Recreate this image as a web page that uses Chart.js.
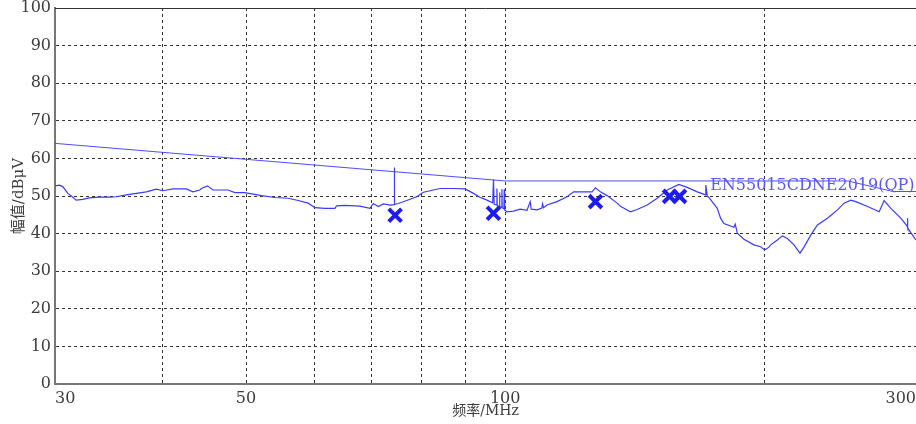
<!DOCTYPE html>
<html>
<head>
<meta charset="utf-8">
<script src="https://cdn.jsdelivr.net/npm/chart.js@4.4.1/dist/chart.umd.min.js"></script>
<style>
  html, body { margin: 0; padding: 0; background: #ffffff; }
  canvas { display: block; }
</style>
</head>
<body>
<canvas id="emi" width="916" height="424"></canvas>
<script>
// ─── 데이터 (MHz / dBμV) ───

// 한계선 EN55015 CDNE 2019 (QP)
const limitFreq = [30, 100, 250, 282, 300];
const limitLevel = [64, 54, 54, 51.2, 51.2];

// 측정 트레이스
const traceFreq = [
  30.0, 30.36, 30.63, 31.05, 31.33, 31.75, 32.32, 32.9, 33.8, 34.71,
  35.34, 36.31, 37.29, 38.3, 39.34, 40.04, 41.13, 42.63, 43.39, 44.18,
  44.38, 45.1, 45.78, 46.82, 47.66, 48.53, 49.84, 50.96, 52.12, 54.01,
  55.97, 57.48, 59.05, 60.11, 61.75, 63.42, 63.71, 65.14, 67.82, 69.66,
  70.28, 71.22, 72.18, 73.49, 74.3, 74.34, 74.4, 75.14, 76.85, 78.94,
  80.35, 82.53, 84.03, 87.07, 89.84, 91.86, 93.53, 94.36, 95.22, 96.7,
  96.92, 97.1, 97.7, 97.81, 97.9, 98.4, 98.5, 98.6, 99.05, 99.13,
  99.2, 99.65, 99.74, 99.85, 100.46, 102.25, 104.1, 106.0, 106.93, 107.2,
  108.87, 110.3, 110.5, 110.8, 111.82, 114.86, 117.98, 120.08, 123.35, 126.15,
  127.27, 128.99, 131.32, 134.89, 136.09, 138.55, 139.78, 142.31, 146.18, 150.14,
  154.22, 159.09, 162.71, 167.13, 170.88, 171.0, 171.66, 172.4, 176.32, 177.88,
  179.46, 184.34, 185.0, 186.02, 189.34, 194.48, 198.0, 199.76, 200.67, 202.45,
  203.37, 207.06, 209.85, 212.68, 216.47, 219.98, 222.35, 226.38, 230.48, 236.74,
  243.17, 247.52, 251.99, 255.39, 263.53, 271.85, 275.51, 280.5, 288.04, 293.0,
  293.25, 293.5, 299.84
];
const traceLevel = [
  52.7, 52.9, 52.5, 50.7, 50.0, 48.9, 49.1, 49.5, 49.7, 49.7,
  49.8, 50.3, 50.7, 51.1, 51.8, 51.4, 51.9, 51.9, 51.1, 51.6,
  52.0, 52.7, 51.6, 51.6, 51.6, 50.9, 50.9, 50.5, 50.1, 49.6,
  49.4, 48.8, 48.1, 46.9, 46.7, 46.7, 47.4, 47.5, 47.3, 46.7,
  48.0, 47.2, 47.9, 47.6, 47.7, 57.6, 47.8, 48.0, 48.8, 49.8,
  51.0, 51.6, 52.0, 52.0, 51.9, 50.7, 49.6, 49.3, 48.9, 48.2,
  54.4, 47.8, 47.6, 52.0, 47.4, 47.3, 50.9, 47.2, 47.0, 51.8,
  46.9, 46.6, 51.8, 46.3, 45.8, 46.0, 46.5, 46.2, 48.5, 46.5,
  46.3, 46.8, 47.9, 46.9, 47.6, 48.5, 49.8, 51.1, 51.1, 51.1,
  52.2, 51.1, 50.1, 48.1, 47.3, 46.3, 45.8, 46.4, 47.6, 49.4,
  51.6, 53.1, 52.3, 51.1, 50.3, 52.9, 50.0, 49.6, 46.7, 44.1,
  42.7, 41.7, 42.5, 40.1, 38.5, 37.0, 36.5, 35.8, 35.8, 36.4,
  37.0, 38.3, 39.4, 38.7, 37.0, 34.8, 36.4, 39.6, 42.3, 44.1,
  46.3, 48.1, 48.9, 48.5, 47.2, 45.8, 48.8, 46.7, 44.1, 42.0,
  44.1, 41.5, 38.3
];

// 최종 측정 (QP) 마커
const markFreq = [74.5, 96.9, 127.3, 155.2, 159.4];
const markLevel = [44.9, 45.4, 48.5, 49.9, 49.9];

// 축 눈금
const xGridValues = [30, 40, 50, 60, 70, 80, 90, 100, 200, 300];
const xTickLabels = [30, 50, 100, 300];
const yTickStep = 10;

const limitName = 'EN55015CDNE2019(QP)';
const limitNameAt = { freq: 173, level: 52.7 };

const FONT = "'DejaVu Serif', 'Noto Sans CJK SC', serif";

const toPoints = (xs, ys) => xs.map((x, i) => ({ x, y: ys[i] }));

// 윗변 테두리 + 한계선 이름
const framePlugin = {
  id: 'frame',
  afterDatasetsDraw(chart) {
    const { ctx, chartArea, scales } = chart;
    ctx.save();
    ctx.strokeStyle = '#333333';
    ctx.lineWidth = 1;
    ctx.beginPath();
    ctx.moveTo(chartArea.left, chartArea.top + 0.5);
    ctx.lineTo(chartArea.right, chartArea.top + 0.5);
    ctx.stroke();

    ctx.font = "16px 'DejaVu Serif', serif";
    ctx.fillStyle = '#5a5af0';
    ctx.textAlign = 'left';
    ctx.textBaseline = 'middle';
    ctx.fillText(limitName,
      scales.x.getPixelForValue(limitNameAt.freq),
      scales.y.getPixelForValue(limitNameAt.level));
    ctx.restore();
  },
};

new Chart(document.getElementById('emi'), {
  type: 'scatter',
  data: {
    datasets: [
      {
        label: 'limit',
        data: toPoints(limitFreq, limitLevel),
        showLine: true,
        borderColor: '#4d4dff',
        borderWidth: 1,
        pointRadius: 0,
        tension: 0,
        order: 3,
      },
      {
        label: 'trace',
        data: toPoints(traceFreq, traceLevel),
        showLine: true,
        borderColor: '#3a3aff',
        borderWidth: 1.2,
        pointRadius: 0,
        tension: 0,
        order: 2,
      },
      {
        label: 'qp',
        data: toPoints(markFreq, markLevel),
        showLine: false,
        pointStyle: 'crossRot',
        pointRadius: 9,
        borderWidth: 4,
        borderColor: '#1c1cf0',
        backgroundColor: '#1c1cf0',
        order: 1,
      },
    ],
  },
  options: {
    responsive: false,
    animation: false,
    layout: { autoPadding: false, padding: { top: 8, right: 0, left: 0, bottom: 0 } },
    plugins: {
      legend: { display: false },
      tooltip: { enabled: false },
    },
    scales: {
      x: {
        type: 'logarithmic',
        min: 30,
        max: 300,
        afterBuildTicks: (scale) => {
          scale.ticks = xGridValues.map((v) => ({ value: v }));
        },
        afterFit: (scale) => {
          scale.height = 40;
          scale.paddingLeft = 0;
          scale.paddingRight = 0;
        },
        ticks: {
          autoSkip: false,
          maxRotation: 0,
          align: 'inner',
          padding: 5,
          color: '#3c3c3c',
          font: { family: FONT, size: 16 },
          callback: (v) => (xTickLabels.includes(v) ? String(v) : ''),
        },
        grid: { color: '#333333', lineWidth: 1, drawTicks: false },
        border: { color: '#777777', width: 2, dash: [3, 3] },
        title: {
          display: true,
          text: '频率/MHz',
          color: '#3c3c3c',
          font: { family: FONT, size: 14 },
          padding: { top: 0, bottom: 4 },
        },
      },
      y: {
        min: 0,
        max: 100,
        afterFit: (scale) => {
          scale.width = 55;
          scale.paddingTop = 0;
          scale.paddingBottom = 0;
        },
        ticks: {
          stepSize: yTickStep,
          padding: 4,
          color: '#3c3c3c',
          font: { family: FONT, size: 16 },
        },
        grid: { color: '#333333', lineWidth: 1, drawTicks: false },
        border: { color: '#777777', width: 2, dash: [3, 3] },
        title: {
          display: true,
          text: '幅值/dBμV',
          color: '#3c3c3c',
          font: { family: FONT, size: 15 },
          padding: { top: 10, bottom: 0 },
        },
      },
    },
  },
  plugins: [framePlugin],
});
</script>
</body>
</html>
